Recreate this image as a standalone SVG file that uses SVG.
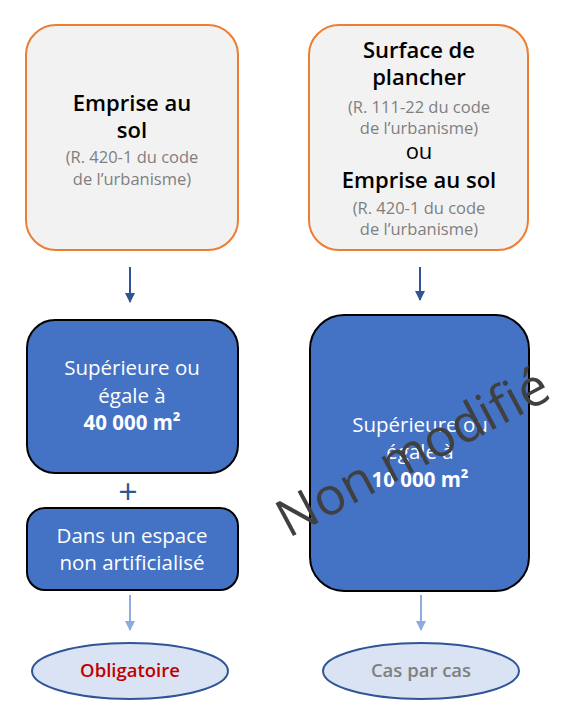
<svg xmlns="http://www.w3.org/2000/svg" width="570" height="708" viewBox="0 0 570 708">
<defs>
<marker id="ad" markerWidth="10" markerHeight="10" refX="5" refY="9" markerUnits="userSpaceOnUse" viewBox="0 0 10 10">
<path d="M0,0 L10,0 L5,10 Z" fill="#2f5597"/>
</marker>
<marker id="al" markerWidth="10" markerHeight="10" refX="5" refY="9" markerUnits="userSpaceOnUse" viewBox="0 0 10 10">
<path d="M0,0 L10,0 L5,10 Z" fill="#8faadc"/>
</marker>
<style>
.src{fill:#f2f2f2;stroke:#ed7d31;stroke-width:2}
.blue{fill:#4472c4;stroke:#000;stroke-width:2}
.ell{fill:#dae3f3;stroke:#2f5597;stroke-width:2}
text{font-family:"Open Sans",Lato,"Liberation Sans",sans-serif;text-anchor:middle}
.h{font-size:22px;fill:#000;font-weight:600}
.g{font-size:16.5px;fill:#7f7f7f}
.w{font-size:20.5px;fill:#fff}
.wb{font-size:20.5px;fill:#fff;font-weight:700}
.dk{stroke:#2f5597;stroke-width:2;fill:none}
.lt{stroke:#8faadc;stroke-width:2;fill:none}
</style>
</defs>
<g id="src-left">
<rect class="src" x="26" y="25" width="212" height="225" rx="30"/>
<text class="h" x="132" y="111">Emprise au</text>
<text class="h" x="132" y="138">sol</text>
<text class="g" x="132" y="163">(R. 420-1 du code</text>
<text class="g" x="132" y="185">de l’urbanisme)</text>
</g>
<g id="src-right">
<rect class="src" x="309" y="25" width="219" height="225" rx="30"/>
<text class="h" x="419" y="58">Surface de</text>
<text class="h" x="419" y="85">plancher</text>
<text class="g" x="419" y="113">(R. 111-22 du code</text>
<text class="g" x="419" y="134">de l’urbanisme)</text>
<text class="h" x="419" y="159" style="font-weight:400">ou</text>
<text class="h" x="419" y="188">Emprise au sol</text>
<text class="g" x="419" y="214">(R. 420-1 du code</text>
<text class="g" x="419" y="235">de l’urbanisme)</text>
</g>
<g id="cond-left">
<rect class="blue" x="27" y="320" width="211" height="153" rx="28"/>
<text class="w" x="132" y="375">Supérieure ou</text>
<text class="w" x="132" y="403">égale à</text>
<text class="wb" x="132" y="430">40 000 m²</text>
</g>
<g id="plus">
<text x="128" y="504" style="font-size:34px;fill:#2f5597">+</text>
</g>
<g id="cond-left-2">
<rect class="blue" x="27" y="508" width="211" height="82" rx="18"/>
<text class="w" x="132" y="543">Dans un espace</text>
<text class="w" x="132" y="570">non artificialisé</text>
</g>
<g id="cond-right">
<rect class="blue" x="310" y="315" width="219" height="276" rx="34"/>
<text class="w" x="420" y="432">Supérieure ou</text>
<text class="w" x="420" y="459">égale à</text>
<text class="wb" x="420" y="487">10 000 m²</text>
</g>
<g id="res-left">
<ellipse class="ell" cx="130" cy="671" rx="98" ry="28"/>
<text x="130" y="677" style="font-size:18.5px;fill:#c00000;font-weight:600">Obligatoire</text>
</g>
<g id="res-right">
<ellipse class="ell" cx="421" cy="671" rx="98" ry="28"/>
<text x="421" y="677" style="font-size:18.5px;fill:#7f7f7f;font-weight:600">Cas par cas</text>
</g>
<g id="connectors">
<line class="dk" x1="130" y1="267" x2="130" y2="302" marker-end="url(#ad)"/>
<line class="dk" x1="420" y1="267" x2="420" y2="300" marker-end="url(#ad)"/>
<line class="lt" x1="130" y1="595" x2="130" y2="630" marker-end="url(#al)"/>
<line class="lt" x1="421" y1="595" x2="421" y2="630" marker-end="url(#al)"/>
</g>
<g id="watermark">
<text x="0" y="0" transform="translate(421,468) rotate(-28)" style="font-size:52px;fill:#404040">Non modifié</text>
</g>
</svg>
